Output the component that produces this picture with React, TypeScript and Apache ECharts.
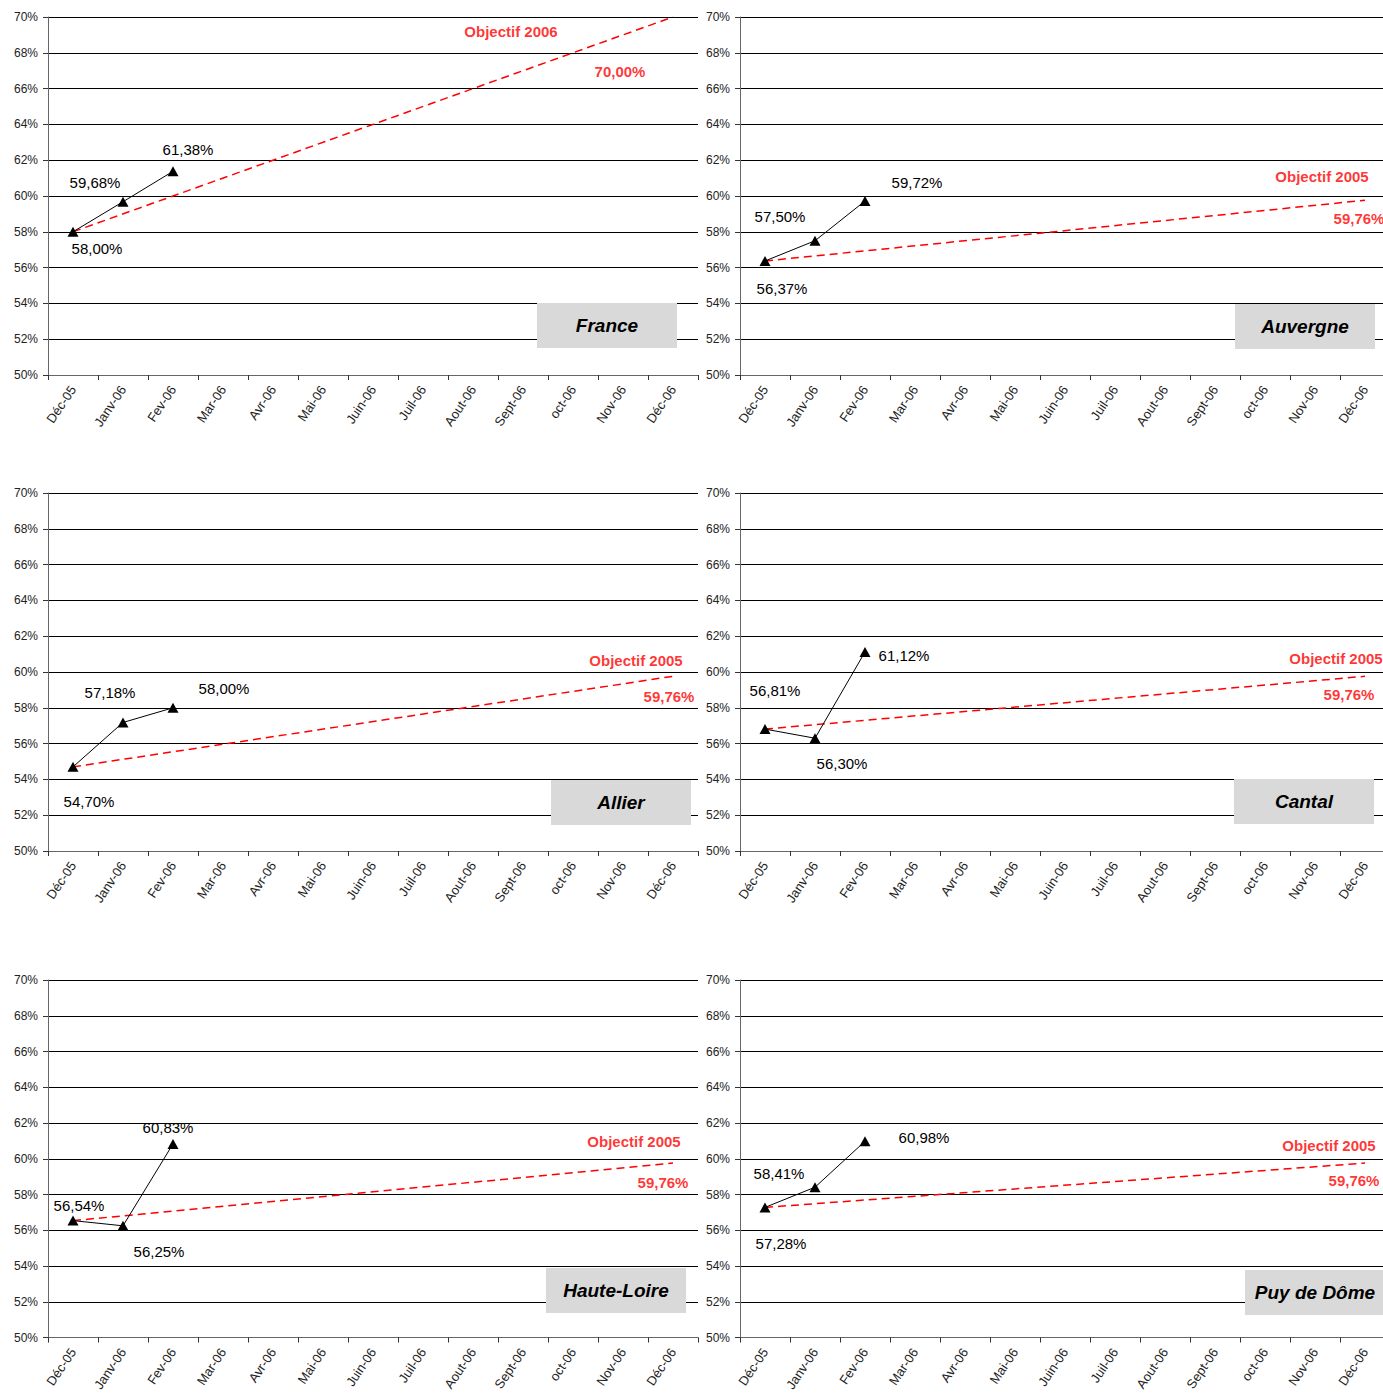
import React, { useEffect, useRef } from "react";
import * as echarts from "echarts";

const categories = [
  "Déc-05", "Janv-06", "Fev-06", "Mar-06", "Avr-06", "Mai-06", "Juin-06",
  "Juil-06", "Aout-06", "Sept-06", "oct-06", "Nov-06", "Déc-06",
];

const yTicks = { min: 50, max: 70, interval: 2 };

const panelNames = ["France", "Auvergne", "Allier", "Cantal", "Haute-Loire", "Puy de Dôme"];

const franceValues = [58.0, 59.68, 61.38];
const auvergneValues = [56.37, 57.5, 59.72];
const allierValues = [54.7, 57.18, 58.0];
const cantalValues = [56.81, 56.3, 61.12];
const hauteLoireValues = [56.54, 56.25, 60.83];
const puyDeDomeValues = [57.28, 58.41, 60.98];

const panelValues = [franceValues, auvergneValues, allierValues, cantalValues, hauteLoireValues, puyDeDomeValues];

const objectiveNames = ["Objectif 2006", "Objectif 2005", "Objectif 2005", "Objectif 2005", "Objectif 2005", "Objectif 2005"];
const objectiveTargets = [70.0, 59.76, 59.76, 59.76, 59.76, 59.76];

// ---- layout (positions / offsets only) ----
const grids = [
  { left: 48, top: 17, width: 650, height: 358 },
  { left: 740, top: 17, width: 650, height: 358 },
  { left: 48, top: 493, width: 650, height: 358 },
  { left: 740, top: 493, width: 650, height: 358 },
  { left: 48, top: 980, width: 650, height: 358 },
  { left: 740, top: 980, width: 650, height: 361 },
];

const valueLabelOffsets = [
  [[24, 17], [-28, -19], [15, -22]],
  [[17, 28], [-35, -24], [52, -19]],
  [[16, 35], [-13, -30], [51, -19]],
  [[10, -39], [27, 25], [39, 4]],
  [[6, -15], [36, 26], [-5, -16]],
  [[16, 36], [-36, -14], [59, -4]],
];

const objectiveNameOffsets = [[-162, 14], [-43, -24], [-37, -16], [-29, -18], [-39, -22], [-36, -18]];
const objectivePctOffsets = [[-53, 54], [-6, 18], [-4, 20], [-16, 18], [-10, 19], [-11, 17]];

const titleBoxes = [
  { x: 537, y: 303, w: 140, h: 45 },
  { x: 1235, y: 304, w: 140, h: 45 },
  { x: 551, y: 780, w: 140, h: 45 },
  { x: 1234, y: 779, w: 140, h: 45 },
  { x: 546, y: 1268, w: 140, h: 45 },
  { x: 1245, y: 1270, w: 140, h: 45 },
];

const FONT = "Arial, 'Liberation Sans', Helvetica, sans-serif";
const fmtPct = (v: number) => v.toFixed(2).replace(".", ",") + "%";

export default function App() {
  const ref = useRef<HTMLDivElement>(null);

  useEffect(() => {
    if (!ref.current) return;
    const chart = echarts.init(ref.current, null, { renderer: "svg" });

    const xAxis: any[] = [];
    const yAxis: any[] = [];
    const series: any[] = [];
    const graphic: any[] = [];

    panelNames.forEach((name, i) => {
      const values = panelValues[i];
      xAxis.push({
        type: "category",
        gridIndex: i,
        data: categories,
        boundaryGap: true,
        axisLine: { show: true, lineStyle: { color: "#666", width: 1 } },
        axisTick: { show: true, alignWithLabel: false, length: 5, lineStyle: { color: "#333" } },
        axisLabel: {
          interval: 0,
          rotate: 56,
          margin: 12,
          fontSize: 13,
          color: "#222",
          fontFamily: FONT,
        },
        splitLine: { show: false },
      });
      yAxis.push({
        type: "value",
        gridIndex: i,
        min: yTicks.min,
        max: yTicks.max,
        interval: yTicks.interval,
        axisLine: { show: true, lineStyle: { color: "#666", width: 1 } },
        axisTick: { show: true, length: 5, lineStyle: { color: "#333" } },
        axisLabel: {
          formatter: "{value}%",
          fontSize: 12,
          margin: 10,
          color: "#222",
          fontFamily: FONT,
        },
        splitLine: { show: true, lineStyle: { color: "#000", width: 1 } },
      });

      // Objective dashed line
      series.push({
        type: "line",
        xAxisIndex: i,
        yAxisIndex: i,
        data: categories.map((_, j) => (j === 0 ? values[0] : j === categories.length - 1 ? objectiveTargets[i] : null)),
        connectNulls: true,
        symbol: "none",
        lineStyle: { color: "#ff0000", width: 1.5, type: [8, 5] },
        z: 2,
        silent: true,
      });
      // Objective labels
      series.push({
        type: "scatter",
        xAxisIndex: i,
        yAxisIndex: i,
        symbolSize: 1,
        itemStyle: { color: "rgba(0,0,0,0)" },
        z: 4,
        data: [
          {
            value: [categories.length - 1, objectiveTargets[i]],
            label: {
              show: true,
              position: "inside",
              offset: objectiveNameOffsets[i],
              formatter: objectiveNames[i],
              color: "#ff0000",
              fontWeight: "bold",
              fontSize: 15,
              fontFamily: FONT,
            },
          },
          {
            value: [categories.length - 1, objectiveTargets[i]],
            label: {
              show: true,
              position: "inside",
              offset: objectivePctOffsets[i],
              formatter: fmtPct(objectiveTargets[i]),
              color: "#ff0000",
              fontWeight: "bold",
              fontSize: 15,
              fontFamily: FONT,
            },
          },
        ],
      });
      // Actual values
      series.push({
        type: "line",
        xAxisIndex: i,
        yAxisIndex: i,
        data: values.map((v, j) => ({
          value: v,
          label: {
            show: true,
            position: "inside",
            offset: valueLabelOffsets[i][j],
            formatter: fmtPct(v),
            color: "#000",
            fontSize: 15,
            fontFamily: FONT,
          },
        })),
        symbol: "triangle",
        symbolSize: [11, 10],
        showSymbol: true,
        itemStyle: { color: "#000" },
        lineStyle: { color: "#000", width: 1 },
        z: 3,
      });

      const b = titleBoxes[i];
      graphic.push({
        type: "rect",
        shape: { x: b.x, y: b.y, width: b.w, height: b.h },
        style: { fill: "#d9d9d9" },
        z: 10,
      });
      graphic.push({
        type: "text",
        x: b.x + b.w / 2,
        y: b.y + b.h / 2,
        style: {
          text: name,
          fill: "#000",
          font: `italic bold 19px ${FONT}`,
          textAlign: "center",
          textVerticalAlign: "middle",
        },
        z: 11,
      });
    });

    chart.setOption({
      animation: false,
      backgroundColor: "#fff",
      grid: grids.map((g) => ({ ...g, containLabel: false })),
      xAxis,
      yAxis,
      series,
      graphic,
    });

    return () => chart.dispose();
  }, []);

  return (
    <div style={{ position: "absolute", left: 0, top: 0, width: 1383, height: 1394, overflow: "hidden" }}>
      <div ref={ref} style={{ width: 1420, height: 1394 }} />
    </div>
  );
}
